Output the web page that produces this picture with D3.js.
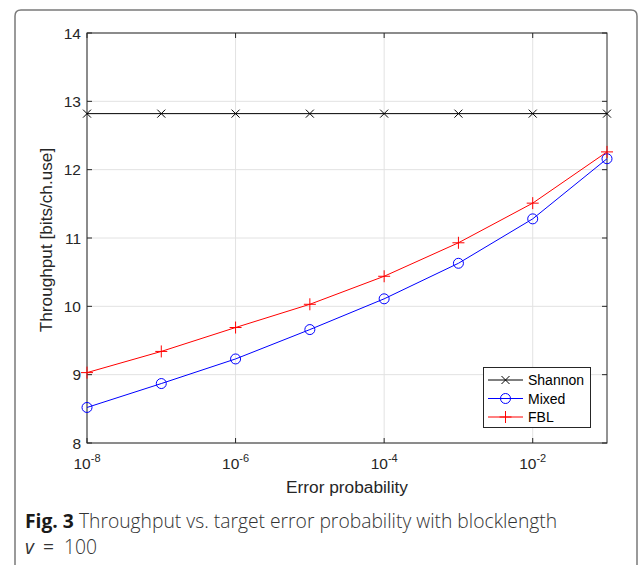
<!DOCTYPE html>
<html>
<head>
<meta charset="utf-8">
<script src="https://cdn.jsdelivr.net/npm/d3@7"></script>
<style>
  body { margin: 0; background: #fff; }
  svg { display: block; }
</style>
</head>
<body>
<div class="chart"></div>
<script>
// error probability targets (one point per decade)
const errProb = [1e-8, 1e-7, 1e-6, 1e-5, 1e-4, 1e-3, 1e-2, 1e-1];
const shannon = [12.82, 12.82, 12.82, 12.82, 12.82, 12.82, 12.82, 12.82];
const mixed = [8.52, 8.87, 9.23, 9.66, 10.11, 10.63, 11.28, 12.16];
const fbl = [9.03, 9.34, 9.69, 10.03, 10.44, 10.93, 11.51, 12.26];
const xTickExp = [-8, -6, -4, -2];
const yTicks = [8, 9, 10, 11, 12, 13, 14];

const width = 639, height = 565;
const margin = {left: 87, right: 32, top: 33, bottom: 122};

const svg = d3.select(".chart").append("svg")
    .attr("width", width)
    .attr("height", height);

// outer frame of the figure box
svg.append("path")
    .attr("d", "M15,600 L15,16 Q15,10 21,10 L631,10 Q637,10 637,16 L637,600")
    .attr("fill", "none")
    .attr("stroke", "#7a7a7a")
    .attr("stroke-width", 1.5);

const x = d3.scaleLog()
    .domain([1e-8, 1e-1])
    .range([margin.left, width - margin.right]);
const y = d3.scaleLinear()
    .domain([8, 14])
    .range([height - margin.bottom, margin.top]);

const x0 = margin.left, x1 = width - margin.right;
const y0 = height - margin.bottom, y1 = margin.top;

// grid
const grid = svg.append("g");
grid.selectAll("line.gx").data(xTickExp).enter().append("line")
    .attr("x1", d => x(Math.pow(10, d))).attr("x2", d => x(Math.pow(10, d)))
    .attr("y1", y0).attr("y2", y1)
    .attr("stroke", "#e2e2e2").attr("stroke-width", 1);
grid.selectAll("line.gy").data(yTicks).enter().append("line")
    .attr("x1", x0).attr("x2", x1)
    .attr("y1", d => y(d)).attr("y2", d => y(d))
    .attr("stroke", "#e2e2e2").attr("stroke-width", 1);

// axes box
svg.append("rect")
    .attr("x", x0).attr("y", y1)
    .attr("width", x1 - x0).attr("height", y0 - y1)
    .attr("fill", "none").attr("stroke", "#262626").attr("stroke-width", 1);

// ticks on all four sides
const tk = svg.append("g").attr("stroke", "#262626").attr("stroke-width", 1);
xTickExp.forEach(e => {
    const px = x(Math.pow(10, e));
    tk.append("line").attr("x1", px).attr("x2", px).attr("y1", y0).attr("y2", y0 - 5);
    tk.append("line").attr("x1", px).attr("x2", px).attr("y1", y1).attr("y2", y1 + 5);
});
yTicks.forEach(v => {
    tk.append("line").attr("x1", x0).attr("x2", x0 + 5).attr("y1", y(v)).attr("y2", y(v));
    tk.append("line").attr("x1", x1).attr("x2", x1 - 5).attr("y1", y(v)).attr("y2", y(v));
});

const font = "'Liberation Sans', Arial, sans-serif";

// y tick labels
svg.append("g").selectAll("text").data(yTicks).enter().append("text")
    .attr("x", x0 - 6)
    .attr("y", d => y(d) + 5.5)
    .attr("text-anchor", "end")
    .attr("font-family", font).attr("font-size", 15.5)
    .attr("fill", "#262626")
    .text(d => d);

// x tick labels 10^e
const xl = svg.append("g").selectAll("text").data(xTickExp).enter().append("text")
    .attr("x", d => x(Math.pow(10, d)))
    .attr("y", y0 + 26)
    .attr("text-anchor", "middle")
    .attr("font-family", font).attr("font-size", 15.5)
    .attr("fill", "#262626");
xl.append("tspan").text("10");
xl.append("tspan").attr("dy", -7).attr("font-size", 11).text(d => d);

// axis titles
svg.append("text")
    .attr("x", (x0 + x1) / 2).attr("y", y0 + 50)
    .attr("text-anchor", "middle")
    .attr("font-family", font).attr("font-size", 17.3)
    .attr("fill", "#262626")
    .text("Error probability");
svg.append("text")
    .attr("transform", `translate(52,${(y0 + y1) / 2 + 2}) rotate(-90)`)
    .attr("text-anchor", "middle")
    .attr("font-family", font).attr("font-size", 17.2)
    .attr("fill", "#262626")
    .text("Throughput [bits/ch.use]");

// series
const series = [
    {name: "Shannon", values: shannon, color: "#000000", marker: "x"},
    {name: "Mixed", values: mixed, color: "#0000ff", marker: "o"},
    {name: "FBL", values: fbl, color: "#ff0000", marker: "+"},
];

function drawMarker(g, type, cx, cy, color) {
    if (type === "o") {
        g.append("circle").attr("cx", cx).attr("cy", cy).attr("r", 5)
            .attr("fill", "none").attr("stroke", color).attr("stroke-width", 1);
    } else if (type === "x") {
        const s = 4;
        g.append("path")
            .attr("d", `M${cx - s},${cy - s}L${cx + s},${cy + s}M${cx - s},${cy + s}L${cx + s},${cy - s}`)
            .attr("stroke", color).attr("stroke-width", 1);
    } else {
        const s = 6;
        g.append("path")
            .attr("d", `M${cx - s},${cy}L${cx + s},${cy}M${cx},${cy - s}L${cx},${cy + s}`)
            .attr("stroke", color).attr("stroke-width", 1);
    }
}

const line = d3.line()
    .x((d, i) => x(errProb[i]))
    .y(d => y(d));

series.forEach(s => {
    const g = svg.append("g");
    g.append("path")
        .attr("d", line(s.values))
        .attr("fill", "none")
        .attr("stroke", s.color)
        .attr("stroke-width", 1);
    s.values.forEach((v, i) => drawMarker(g, s.marker, x(errProb[i]), y(v), s.color));
});

// legend
const lg = svg.append("g");
lg.append("rect")
    .attr("x", 483.5).attr("y", 367.5)
    .attr("width", 107).attr("height", 60)
    .attr("fill", "#fff").attr("stroke", "#262626").attr("stroke-width", 1);
series.forEach((s, i) => {
    const ly = 380 + i * 18.5;
    lg.append("line").attr("x1", 488).attr("x2", 523).attr("y1", ly).attr("y2", ly)
        .attr("stroke", s.color).attr("stroke-width", 1);
    drawMarker(lg, s.marker, 505.5, ly, s.color);
    lg.append("text")
        .attr("x", 528).attr("y", ly + 5)
        .attr("font-family", font).attr("font-size", 14)
        .attr("fill", "#000")
        .text(s.name);
});

// caption
const capFont = "'Open Sans', 'Noto Sans', sans-serif";
const cap = svg.append("text")
    .attr("x", 25).attr("y", 528)
    .attr("font-family", capFont)
    .attr("font-size", 19.3)
    .attr("fill", "#333");
cap.append("tspan").attr("font-weight", "bold").attr("fill", "#1a1a1a").text("Fig. 3");
cap.append("tspan").attr("font-weight", 300).text(" Throughput vs. target error probability with blocklength");
const cap2 = svg.append("text")
    .attr("y", 554)
    .attr("font-family", capFont)
    .attr("font-size", 19.3)
    .attr("fill", "#333");
cap2.append("tspan").attr("x", 25).attr("font-style", "italic").text("v");
cap2.append("tspan").attr("x", 43).text("=");
cap2.append("tspan").attr("x", 64).attr("font-weight", 300).text("100");
</script>
</body>
</html>
